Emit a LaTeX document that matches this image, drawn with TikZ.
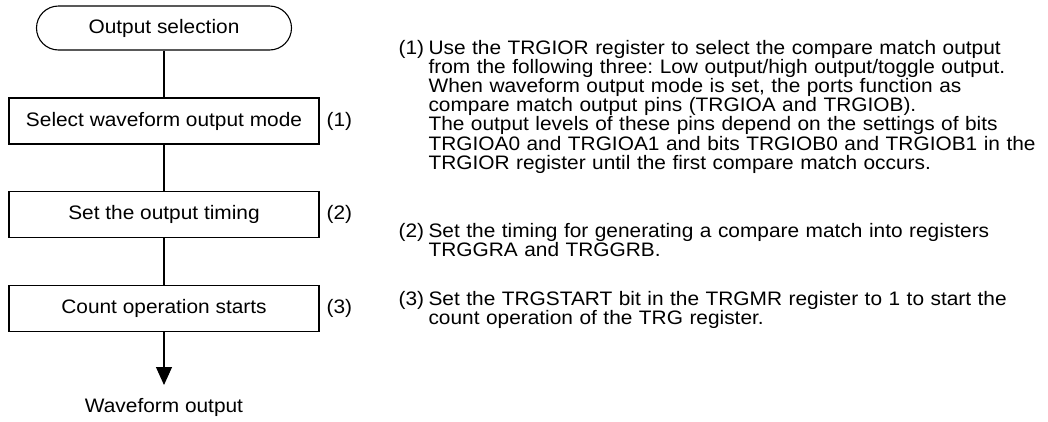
\documentclass[tikz,border=0pt]{standalone}
\usepackage{fontspec}
\setmainfont[FakeStretch=1.07]{Liberation Sans}
\usetikzlibrary{arrows.meta}
\frenchspacing

\begin{document}
\begin{tikzpicture}[x=1pt, y=-1pt, line width=1.1pt,
  font=\fontsize{19.5}{19.2}\selectfont,
  stepbox/.style={draw, minimum width=310pt, minimum height=46pt, inner sep=0pt},
  termbox/.style={draw, rounded corners=22pt, minimum width=255pt, minimum height=44pt, inner sep=0pt},
  tag/.style={anchor=west, inner sep=0pt},
  note/.style={anchor=base west, text width=#1, align=left, inner sep=0pt}]
\useasboundingbox (0,0) rectangle (1048,421);

% flow
\node[termbox] (start) at (164,28) {Output selection};
\node[stepbox] (mode) at (164,121) {Select waveform output mode};
\node[stepbox] (timing) at (164,214.5) {Set the output timing};
\node[stepbox] (count) at (164,308.5) {Count operation starts};
\coordinate (tip) at (164,385);
\node[inner sep=0pt] (wave) at (164,407) {Waveform output};

\draw (start) -- (mode);
\draw (mode) -- (timing);
\draw (timing) -- (count);
\draw[-{Triangle[length=18pt, width=16pt]}] (count) -- (tip);

\node[tag] (tag1) at (326,121) {(1)};
\node[tag] (tag2) at (326,214.5) {(2)};
\node[tag] (tag3) at (326,308.5) {(3)};

% notes
\node[note=28pt] (n1) at (398,54) {(1)};
\node[note=618pt] (t1) at (428,54) {Use the TRGIOR register to select the compare match output\\
from the following three: Low output/high output/toggle output.\\
When waveform output mode is set, the ports function as\\
compare match output pins (TRGIOA and TRGIOB).\\
The output levels of these pins depend on the settings of bits\\
TRGIOA0 and TRGIOA1 and bits TRGIOB0 and TRGIOB1 in the\\
TRGIOR register until the first compare match occurs.};

\node[note=28pt] (n2) at (398,237) {(2)};
\node[note=618pt] (t2) at (428,237) {Set the timing for generating a compare match into registers\\
TRGGRA and TRGGRB.};

\node[note=28pt] (n3) at (398,305) {(3)};
\node[note=618pt] (t3) at (428,305) {Set the TRGSTART bit in the TRGMR register to 1 to start the\\
count operation of the TRG register.};
\end{tikzpicture}
\end{document}
